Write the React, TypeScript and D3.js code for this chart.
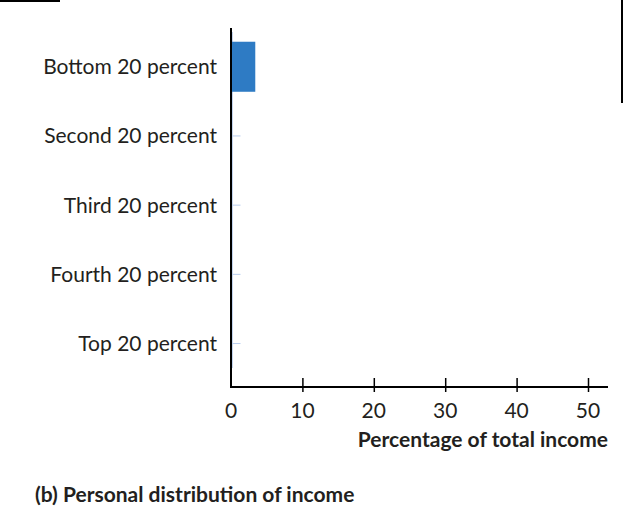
import { axisBottom, axisRight, scaleBand, scaleLinear, select } from "d3";
import React, { useEffect, useRef } from "react";

const categories = [
    "Bottom 20 percent",
    "Second 20 percent",
    "Third 20 percent",
    "Fourth 20 percent",
    "Top 20 percent",
];
const shares = [3.4, 0, 0, 0, 0];
const xTicks = [0, 10, 20, 30, 40, 50];

const FONT = "Lato, 'Open Sans', sans-serif";
const TEXT = "#231f20";

const IncomeChart: React.FC = () => {
    const svgRef = useRef<SVGSVGElement>(null);

    useEffect(() => {
        if (!svgRef.current) return;
        svgRef.current.innerHTML = "";

        const width = 623,
            height = 523;
        const x0 = 231,
            axisY = 387;

        var xScale = scaleLinear().domain([0, 50]).range([x0, 588]);

        var yScale = scaleBand<string>()
            .domain(categories)
            .range([27.9, 382.4])
            .paddingInner(0.277)
            .paddingOuter(0.2);

        var svg = select(svgRef.current)
            .attr("width", width)
            .attr("height", height);

        // stray frame marks from the page
        svg.append("line")
            .attr("x1", 0)
            .attr("x2", 60)
            .attr("y1", 1)
            .attr("y2", 1)
            .attr("stroke", "#000")
            .attr("stroke-width", 2);
        svg.append("line")
            .attr("x1", 622)
            .attr("x2", 622)
            .attr("y1", 0)
            .attr("y2", 103)
            .attr("stroke", "#000")
            .attr("stroke-width", 2);

        // faint category axis (ticks at band centres)
        svg.append("g")
            .attr("transform", "translate(" + (x0 + 1.5) + ",0)")
            .call(
                axisRight(yScale)
                    .tickSize(8)
                    .tickSizeOuter(0)
                    .tickFormat(() => ""),
            )
            .call(g =>
                g
                    .select(".domain")
                    .attr("stroke", "#c3d4ee")
                    .attr("d", "M0,32V368"),
            )
            .call(g => g.selectAll(".tick line").attr("stroke", "#b9cdee"));

        // bars
        svg.selectAll(".bar")
            .data(categories)
            .enter()
            .append("rect")
            .attr("fill", "#2e7bc4")
            .attr("x", x0 + 1)
            .attr("y", d => yScale(d)!)
            .attr("height", yScale.bandwidth())
            .attr("width", (d, i) => Math.max(0, xScale(shares[i]) - x0 - 1));

        // category labels
        svg.selectAll(".label")
            .data(categories)
            .enter()
            .append("text")
            .attr("x", 217)
            .attr("y", d => yScale(d)! + yScale.bandwidth() / 2)
            .attr("dy", "0.35em")
            .attr("text-anchor", "end")
            .attr("font-family", FONT)
            .attr("font-size", 21)
            .attr("fill", TEXT)
            .text(d => d);

        // x axis
        svg.append("g")
            .attr("transform", "translate(0," + axisY + ")")
            .call(
                axisBottom(xScale)
                    .tickValues(xTicks.filter(t => t > 0))
                    .tickSize(0)
                    .tickFormat(() => ""),
            )
            .call(g => g.select(".domain").remove())
            .call(g =>
                g
                    .selectAll(".tick line")
                    .attr("y1", -9)
                    .attr("y2", 5)
                    .attr("stroke", "#000")
                    .attr("stroke-width", 1.5),
            );

        svg.append("path")
            .attr("d", "M" + x0 + ",28V" + axisY + "H608")
            .attr("fill", "none")
            .attr("stroke", "#000")
            .attr("stroke-width", 2);

        svg.selectAll(".xlabel")
            .data(xTicks)
            .enter()
            .append("text")
            .attr("x", d => xScale(d))
            .attr("y", 418)
            .attr("text-anchor", "middle")
            .attr("font-family", FONT)
            .attr("font-size", 21)
            .attr("fill", TEXT)
            .text(d => d);

        svg.append("text")
            .attr("x", 608)
            .attr("y", 447)
            .attr("text-anchor", "end")
            .attr("font-family", FONT)
            .attr("font-weight", "bold")
            .attr("font-size", 21)
            .attr("fill", TEXT)
            .text("Percentage of total income");

        svg.append("text")
            .attr("x", 35)
            .attr("y", 502)
            .attr("font-family", FONT)
            .attr("font-weight", "bold")
            .attr("font-size", 21)
            .attr("fill", TEXT)
            .text("(b) Personal distribution of income");
    }, []);

    return (
        <svg
            ref={svgRef}
            style={{ position: "absolute", left: 0, top: 0, background: "#fff" }}
        ></svg>
    );
};

export default function App() {
    return <IncomeChart />;
}
